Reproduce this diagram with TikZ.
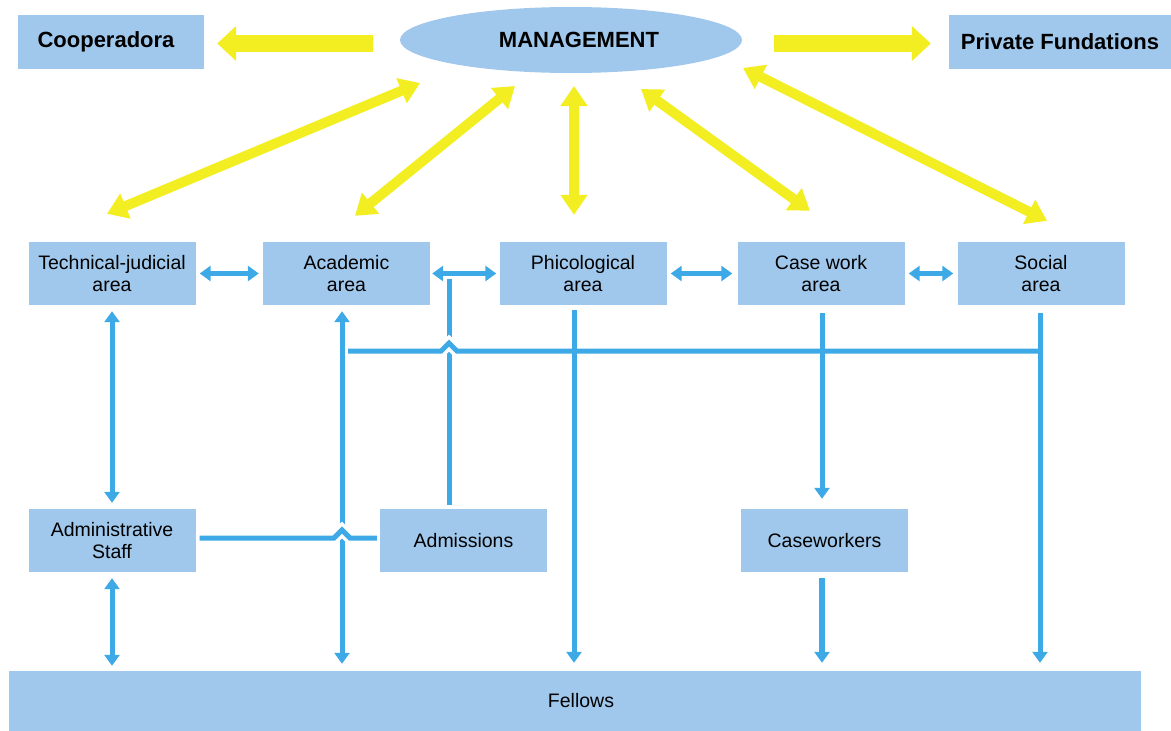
\documentclass[tikz,border=0pt]{standalone}
\usepackage{fontspec}
\setmainfont{Liberation Sans}
\usetikzlibrary{arrows.meta,positioning,calc,shapes.geometric}
\definecolor{orgbox}{HTML}{A0C8EC}
\definecolor{orgline}{HTML}{3DA9E6}
\definecolor{orgyellow}{HTML}{F2EE22}

\begin{document}
\begin{tikzpicture}[
  x=1pt,y=-1pt,
  area/.style={fill=orgbox,minimum width=167pt,minimum height=63pt,inner sep=0pt,align=center,font=\fontsize{19.5}{22}\selectfont},
  topbox/.style={fill=orgbox,minimum height=54pt,inner sep=0pt,font=\fontsize{22}{26}\selectfont\bfseries},
  link/.style={orgline,line width=5pt},
  arrow/.style={link,-{Triangle[length=11pt,width=15pt]}},
  biarrow/.style={link,{Triangle[length=11pt,width=15pt]}-{Triangle[length=11pt,width=15pt]}},
  hop/.style={preaction={draw=white,line width=12pt}},
  ybig/.style={orgyellow,line width=17pt,-{Triangle[length=19pt,width=34pt]}},
  ybi/.style={orgyellow,line width=10pt,{Triangle[length=20pt,width=26pt]}-{Triangle[length=20pt,width=26pt]}}
]
\useasboundingbox (0,0) rectangle (1171,731);

% top row
\node[ellipse,fill=orgbox,minimum width=342pt,minimum height=66pt,inner sep=0pt,font=\fontsize{22}{26}\selectfont\bfseries] (mgmt) at (571,40) {\hspace*{16pt}MANAGEMENT};
\node[topbox,minimum width=186pt] (coop) at (111,42) {Cooperadora\hspace*{10pt}};
\node[topbox,minimum width=222pt] (priv) at (1060,42) {Private Fundations};

% areas
\node[area] (tech) at (112,273.5) {Technical-judicial\\area};
\node[area] (acad) at (346.5,273.5) {Academic\\area};
\node[area] (phic) at (583,273.5) {Phicological\\area};
\node[area] (casew) at (821,273.5) {Case work\\area};
\node[area] (social) at (1041,273.5) {Social\\area};

\node[area] (admin) at (112,540.5) {Administrative\\Staff};
\node[area] (admis) at (463.5,540.5) {Admissions};
\node[area] (casewk) at (824.5,540.5) {Caseworkers};
\node[area,minimum width=1132pt,minimum height=60pt] (fellows) at (575,701) {\hspace*{12pt}Fellows};

% yellow arrows
\draw[ybig] ([shift={(-27,3.5)}]mgmt.west) -- ([shift={(13,1.5)}]coop.east);
\draw[ybig] ([shift={(32,3.5)}]mgmt.east) -- ([shift={(-18,1.5)}]priv.west);
\draw[ybi] ([shift={(-151,43)}]mgmt.center) -- ([shift={(-5,-28)}]tech.north);
\draw[ybi] ([shift={(-56,46)}]mgmt.center) -- ([shift={(8.5,-26)}]acad.north);
\draw[ybi] ([shift={(3,46)}]mgmt.center) -- ([shift={(-9,-27)}]phic.north);
\draw[ybi] ([shift={(70,49)}]mgmt.center) -- ([shift={(-11,-31)}]casew.north);
\draw[ybi] ([shift={(172,28)}]mgmt.center) -- ([shift={(6,-21)}]social.north);

% blue links between areas
\draw[biarrow,shorten <=4pt,shorten >=4pt] (tech.east) -- (acad.west);
\draw[biarrow,shorten <=2pt,shorten >=3pt] (acad.east) -- (phic.west);
\draw[biarrow,shorten <=4pt,shorten >=5pt] (phic.east) -- (casew.west);
\draw[biarrow,shorten <=4pt,shorten >=4pt] (casew.east) -- (social.west);

\coordinate (acadx) at ([shift={(-4.5,0)}]acad.south);
\coordinate (admx) at ([shift={(-14.5,0)}]admis.north);
\coordinate (phicx) at ([shift={(-9,0)}]phic.south);
\coordinate (casex) at ([shift={(1,0)}]casew.south);
\coordinate (socx) at ([shift={(-1,0)}]social.south);
\coordinate (bus) at ([shift={(6,46)}]acadx);
\coordinate (adml) at ([shift={(4,-2.5)}]admin.east);

\draw[biarrow,shorten <=6pt,shorten >=6pt] (tech.south) -- (admin.north);
\draw[biarrow,shorten <=6pt,shorten >=5pt] (admin.south) -- (admin.south |- fellows.north);
\draw[biarrow,shorten <=6pt,shorten >=7pt] (acadx) -- (acadx |- fellows.north);
\draw[link] (admx |- acad.east) ++(0,5) -- ([shift={(0,-4)}]admx);

% crossings with hops
\draw[link,hop] (bus) -- ($(bus -| admx)+(-8,0)$) -- ($(bus -| admx)+(0,-8)$)
  -- ($(bus -| admx)+(8,0)$) -- (bus -| socx);
\draw[link,hop] (adml) -- ($(adml -| acadx)+(-8,0)$) -- ($(adml -| acadx)+(0,-8)$)
  -- ($(adml -| acadx)+(8,0)$) -- ([shift={(-3,0)}]adml -| admis.west);

\draw[arrow,shorten <=5pt,shorten >=8pt] (phicx) -- (phicx |- fellows.north);
\draw[arrow,shorten <=8pt,shorten >=10pt] (casex) -- (casex |- casewk.north);
\draw[arrow,line width=6pt,shorten <=6pt,shorten >=8pt] (casex |- casewk.south) -- (casex |- fellows.north);
\draw[arrow,shorten <=8pt,shorten >=8pt] (socx) -- (socx |- fellows.north);
\end{tikzpicture}
\end{document}
